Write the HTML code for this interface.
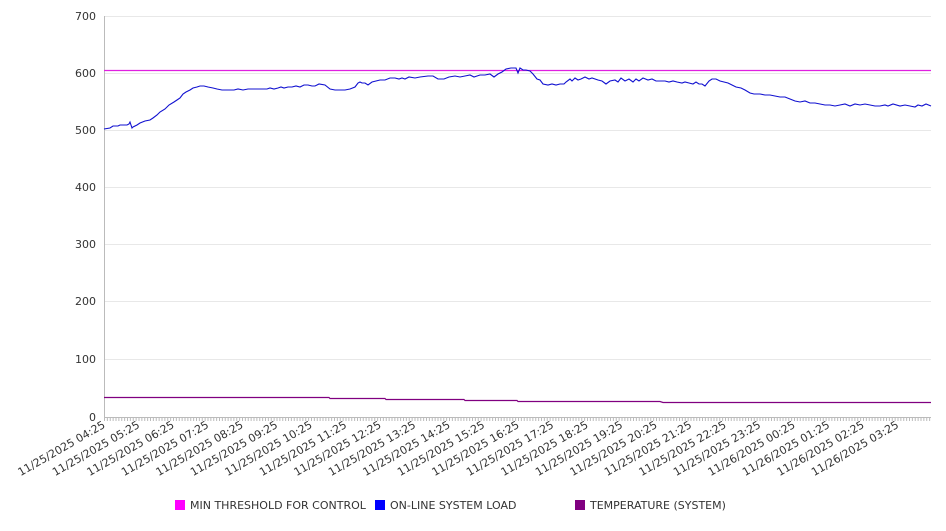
<!DOCTYPE html>
<html><head><meta charset="utf-8"><style>
body{margin:0;background:#fff}
svg text{font-family:"DejaVu Sans","Liberation Sans",sans-serif;font-size:11px;fill:#333}
</style></head><body>
<svg id="s" width="946" height="526" xmlns="http://www.w3.org/2000/svg">
<g stroke="#e8e8e8" stroke-width="1">
<line x1="104" x2="931" y1="16.5" y2="16.5"/>
<line x1="104" x2="931" y1="73.5" y2="73.5"/>
<line x1="104" x2="931" y1="130.5" y2="130.5"/>
<line x1="104" x2="931" y1="187.5" y2="187.5"/>
<line x1="104" x2="931" y1="244.5" y2="244.5"/>
<line x1="104" x2="931" y1="301.5" y2="301.5"/>
<line x1="104" x2="931" y1="359.5" y2="359.5"/>
</g>
<line x1="104.5" x2="104.5" y1="16" y2="417" stroke="#bbb"/>
<line x1="104" x2="931" y1="417.5" y2="417.5" stroke="#bbb"/>
<g id="ticks" stroke="#bbb"></g>
<g text-anchor="end">
<text x="96" y="20">700</text><text x="96" y="77">600</text><text x="96" y="134">500</text>
<text x="96" y="191">400</text><text x="96" y="248">300</text><text x="96" y="305">200</text>
<text x="96" y="363">100</text><text x="96" y="421">0</text>
</g>
<g id="xl" text-anchor="end"></g>
<line x1="104" x2="931" y1="70.5" y2="70.5" stroke="#e020e0" stroke-width="1.2"/>
<polyline fill="none" stroke="#800080" stroke-width="1.2" points="104,397.5 329,397.5 330,398.5 385,398.5 386,399.5 464,399.5 465,400.5 517,400.5 518,401.5 660,401.5 663,402.5 931,402.5"/>
<polyline fill="none" stroke="#1010d0" stroke-width="1.1" points="104,129 110,128 113,126 118,126 120,125 127,125 129,124 130,122 132,128 133,127 137,125 140,123 145,121 150,120 153,118 157,115 160,112 165,109 169,105 174,102 177,100 180,98 183,94 186,92 190,90 193,88 197,87 200,86 204,86 208,87 213,88 217,89 222,90 226,90 230,90 234,90 238,89 243,90 248,89 253,89 258,89 262,89 267,89 270,88 274,89 278,88 281,87 284,88 288,87 292,87 296,86 300,87 304,85 308,85 312,86 315,86 317,85 319,84 325,85 330,89 335,90 340,90 345,90 350,89 355,87 358,83 360,82 362,83 365,83 368,85 372,82 376,81 380,80 385,80 390,78 395,78 399,79 402,78 405,79 409,77 415,78 420,77 428,76 433,76 438,79 444,79 449,77 455,76 460,77 465,76 470,75 474,77 480,75 485,75 490,74 494,77 498,74 502,72 506,69 511,68 516,68 518,73 520,68 523,70 526,70 530,71 533,74 537,79 540,80 543,84 548,85 552,84 556,85 560,84 564,84 566,82 570,79 572,81 575,78 578,80 581,79 585,77 589,79 592,78 598,80 602,81 606,84 610,81 615,80 618,82 621,78 625,81 629,79 633,82 636,79 639,81 643,78 648,80 652,79 656,81 660,81 665,81 669,82 673,81 677,82 682,83 685,82 689,83 693,84 696,82 699,84 702,84 705,86 709,81 712,79 716,79 720,81 724,82 728,83 732,85 736,87 741,88 745,90 750,93 754,94 760,94 765,95 770,95 775,96 780,97 785,97 790,99 795,101 800,102 805,101 810,103 815,103 820,104 825,105 830,105 835,106 840,105 845,104 850,106 855,104 860,105 865,104 870,105 875,106 880,106 885,105 888,106 893,104 900,106 905,105 910,106 915,107 918,105 922,106 926,104 931,106"/>
<rect x="175" y="500" width="10" height="10" fill="#ff00ff"/>
<text x="190" y="509">MIN THRESHOLD FOR CONTROL</text>
<rect x="375" y="500" width="10" height="10" fill="#0000ff"/>
<text x="390" y="509">ON-LINE SYSTEM LOAD</text>
<rect x="575" y="500" width="10" height="10" fill="#800080"/>
<text x="590" y="509">TEMPERATURE (SYSTEM)</text>
</svg>
<script>
var t=document.getElementById('ticks'),h='';
for(var x=104.5;x<=931;x+=2.875){h+='<line x1="'+x+'" x2="'+x+'" y1="417" y2="421"/>';}
t.innerHTML=h;
var l=document.getElementById('xl'),s='';
for(var i=0;i<24;i++){var hr=(4+i)%24,d=(4+i)>=24?'26':'25';
var lab='11/'+d+'/2025 '+(hr<10?'0':'')+hr+':25';var x=106+i*34.5;
s+='<text transform="translate('+x+',427) rotate(-30)">'+lab+'</text>';}
l.innerHTML=s;
</script>
</body></html>
